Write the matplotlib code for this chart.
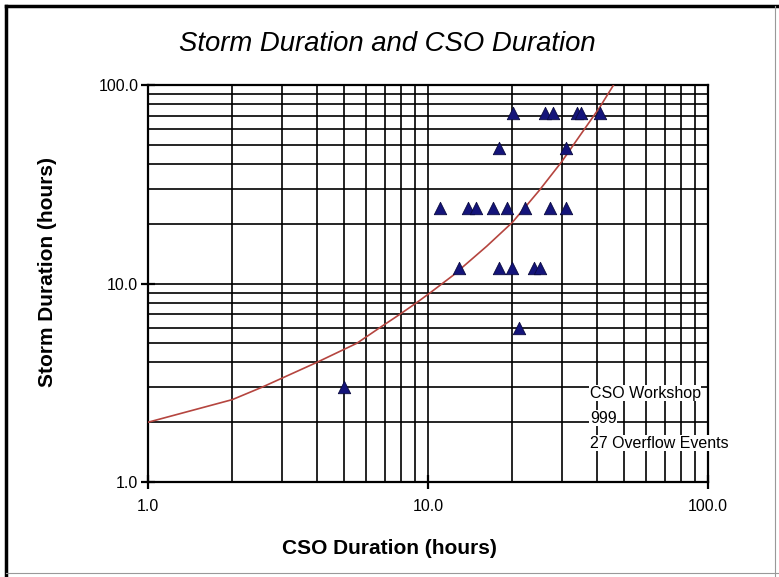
import matplotlib
matplotlib.use("Agg")
import matplotlib.pyplot as plt
from matplotlib.lines import Line2D
from matplotlib.ticker import FixedLocator, FixedFormatter, NullFormatter

# Overflow events (CSO duration vs storm duration, hours)
cso_hours = [20.2, 26.2, 28.0, 34.0, 35.1, 41.1,
             18.0, 31.0,
             11.0, 13.9, 14.9, 17.1, 19.1, 22.2, 27.2, 31.2,
             12.9, 18.0, 20.0, 23.9, 25.1,
             21.2,
             5.0]
storm_hours = [72, 72, 72, 72, 72, 72,
               48, 48,
               24, 24, 24, 24, 24, 24, 24, 24,
               12, 12, 12, 12, 12,
               6,
               3]

# Red reference curve (grid crossings)
curve_cso = [1.0, 2.0, 2.55, 4.0, 5.57, 6.74, 7.94, 9.1, 10.2,
             12.3, 16.2, 20.0, 25.0, 30.0, 35.0, 41.0, 46.0]
curve_storm = [2.0, 2.6, 3.0, 4.0, 5.0, 6.0, 7.0, 8.0, 9.0,
               11.0, 15.4, 20.3, 29.5, 41.0, 56.0, 77.0, 100.0]

major_ticks = [1, 10, 100]
major_labels = ["1.0", "10.0", "100.0"]
note_lines = ["CSO Workshop", "999", "27 Overflow Events"]

plt.rcParams["font.family"] = ["Liberation Sans", "DejaVu Sans"]

fig = plt.figure(figsize=(7.79, 5.77), dpi=100)
ax = fig.add_axes([148 / 779, 95 / 577, 560 / 779, 397 / 577])

ax.set_xscale("log")
ax.set_yscale("log")
ax.set_xlim(1, 100)
ax.set_ylim(1, 100)

# grid at every minor decade step
for axis in (ax.xaxis, ax.yaxis):
    axis.set_major_locator(FixedLocator(major_ticks))
    axis.set_major_formatter(FixedFormatter(major_labels))
    axis.set_minor_formatter(NullFormatter())
ax.grid(True, which="both", color="black", linewidth=1.2)
ax.tick_params(which="minor", length=0)
ax.tick_params(which="major", direction="inout", length=10, width=1.6,
               labelsize=11.5)
ax.tick_params(axis="x", pad=7)
ax.tick_params(axis="y", pad=2)
for sp in ax.spines.values():
    sp.set_linewidth(1.6)

ax.plot(curve_cso, curve_storm, color="#b5453f", linewidth=1.2, zorder=3)
ax.scatter(cso_hours, storm_hours, marker="^", s=80, color="#14147a",
           edgecolors="#0a0a40", linewidths=0.6, zorder=4)

for i, line in enumerate(note_lines):
    ax.text(0.789, 0.224 - i * 0.063, line, transform=ax.transAxes,
            fontsize=11.5, ha="left", va="center", zorder=5,
            bbox=dict(facecolor="white", edgecolor="none", pad=0.5))

fig.text(387 / 779, 1 - 44 / 577, "Storm Duration and CSO Duration",
         fontsize=19.8, style="italic", ha="center", va="center")
fig.text(389.5 / 779, 1 - 549 / 577, "CSO Duration (hours)",
         fontsize=15, fontweight="bold", ha="center", va="center")
fig.text(48 / 779, 1 - 272 / 577, "Storm Duration (hours)",
         fontsize=15, fontweight="bold",
         rotation=90, ha="center", va="center")

# outer frame of the picture
fig.add_artist(Line2D([6 / 779, 6 / 779], [0, 1 - 6 / 577],
                      transform=fig.transFigure, color="black", linewidth=2.5))
fig.add_artist(Line2D([6 / 779, 1], [1 - 6 / 577, 1 - 6 / 577],
                      transform=fig.transFigure, color="black", linewidth=2.5))
fig.add_artist(Line2D([775 / 779, 775 / 779], [0, 1 - 6 / 577],
                      transform=fig.transFigure, color="#999999", linewidth=0.8))
fig.add_artist(Line2D([6 / 779, 1], [4 / 577, 4 / 577],
                      transform=fig.transFigure, color="#999999", linewidth=0.8))

fig.savefig("out.png", dpi=100)
